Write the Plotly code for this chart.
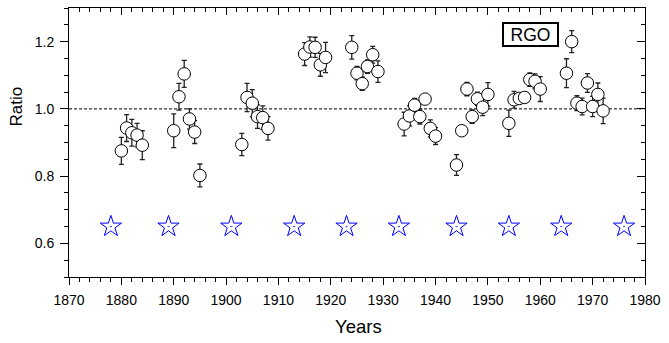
import plotly.graph_objects as go

# RGO ratio data
years = [1880, 1881, 1882, 1883, 1884, 1890, 1891, 1892, 1893, 1894, 1895,
         1903, 1904, 1905, 1906, 1907, 1908,
         1915, 1916, 1917, 1918, 1919, 1924, 1925, 1926, 1927, 1928, 1929,
         1934, 1935, 1936, 1937, 1938, 1939, 1940,
         1944, 1945, 1946, 1947, 1948, 1949, 1950,
         1954, 1955, 1956, 1957, 1958, 1959, 1960,
         1965, 1966, 1967, 1968, 1969, 1970, 1971, 1972]
ratio = [0.875, 0.943, 0.929, 0.922, 0.892, 0.935, 1.036, 1.104, 0.970, 0.931, 0.802,
         0.894, 1.034, 1.017, 0.977, 0.974, 0.942,
         1.163, 1.184, 1.183, 1.131, 1.153, 1.183, 1.106, 1.075, 1.126, 1.161, 1.111,
         0.955, 0.979, 1.011, 0.977, 1.029, 0.942, 0.919,
         0.833, 0.935, 1.059, 0.977, 1.030, 1.005, 1.043,
         0.957, 1.027, 1.031, 1.034, 1.087, 1.082, 1.059,
         1.106, 1.200, 1.017, 1.007, 1.077, 1.007, 1.043, 0.994]
err = [0.040, 0.040, 0.040, 0.035, 0.043, 0.050, 0.040, 0.040, 0.030, 0.034, 0.034,
       0.033, 0.042, 0.040, 0.035, 0.035, 0.035,
       0.034, 0.030, 0.030, 0.034, 0.045, 0.035, 0.020, 0.020, 0.020, 0.025, 0.032,
       0.035, 0.030, 0.020, 0.022, 0.010, 0.025, 0.025,
       0.031, 0.010, 0.020, 0.020, 0.020, 0.025, 0.035,
       0.039, 0.025, 0.010, 0.010, 0.020, 0.022, 0.037,
       0.043, 0.033, 0.022, 0.025, 0.028, 0.030, 0.034, 0.038]

# Solar minima markers
minima_years = [1878, 1889, 1901, 1913, 1923, 1933, 1944, 1954, 1964, 1976]
minima_level = [0.65] * len(minima_years)

x_range = [1870, 1980]
y_range = [0.5, 1.3]
x_ticks = [1870, 1880, 1890, 1900, 1910, 1920, 1930, 1940, 1950, 1960, 1970, 1980]
y_ticks = [0.6, 0.8, 1.0, 1.2]
reference_level = 1.0

FONT = "Arial, Liberation Sans, sans-serif"

fig = go.Figure()

fig.add_trace(go.Scatter(
    x=years, y=ratio, mode="markers",
    marker=dict(symbol="circle", size=12.5, color="white",
                line=dict(color="black", width=1)),
    error_y=dict(type="data", array=err, visible=True, color="#222222",
                 thickness=1.3, width=2.5),
    showlegend=False, hoverinfo="x+y"))

fig.add_trace(go.Scatter(
    x=minima_years, y=minima_level, mode="markers",
    marker=dict(symbol="star-open-dot", size=16, color="#0000ff",
                line=dict(color="#0000ff", width=1)),
    showlegend=False))

# invisible trace for mirrored axes
fig.add_trace(go.Scatter(x=x_range, y=y_range, xaxis="x2", yaxis="y2",
                         mode="markers", marker=dict(opacity=0),
                         showlegend=False, hoverinfo="skip"))

fig.add_shape(type="line", xref="paper", x0=0, x1=1, yref="y",
              y0=reference_level, y1=reference_level,
              line=dict(color="black", width=1, dash="3px,2px"), layer="below")

fig.add_annotation(x=0.801, y=0.902, xref="paper", yref="paper",
                   text="RGO", showarrow=False,
                   xanchor="center", yanchor="middle",
                   width=50, height=18,
                   font=dict(family=FONT, size=17.5, color="black"),
                   bordercolor="black", borderwidth=2, borderpad=1.5,
                   bgcolor="white")

# axis titles
fig.add_annotation(x=-0.091, y=0.632, xref="paper", yref="paper",
                   text="Ratio", textangle=-90, showarrow=False,
                   xanchor="center", yanchor="middle",
                   font=dict(family=FONT, size=17, color="black"))
fig.add_annotation(x=0.503, y=-0.184, xref="paper", yref="paper",
                   text="Years", showarrow=False,
                   xanchor="center", yanchor="middle",
                   font=dict(family=FONT, size=18.5, color="black"))

axis_common = dict(showgrid=False, zeroline=False, showline=True,
                   linecolor="black", linewidth=1)

fig.update_layout(
    width=669, height=343,
    margin=dict(l=68.5, r=18.3, t=8.3, b=66.3),
    paper_bgcolor="white", plot_bgcolor="white",
    font=dict(family=FONT, size=14, color="black"),
    xaxis=dict(range=x_range, tickvals=x_ticks, ticks="outside", ticklen=7,
               tickcolor="black", tickfont=dict(size=14), ticklabelstandoff=3,
               minor=dict(dtick=2, ticks="outside", ticklen=4, tickcolor="black"),
               **axis_common),
    yaxis=dict(range=y_range, tickvals=y_ticks, tickformat=".1f",
               ticks="outside", ticklen=8, tickcolor="black",
               tickfont=dict(size=14), ticklabelstandoff=3,
               minor=dict(dtick=0.05, tick0=0.5, ticks="outside", ticklen=4,
                          tickcolor="black"),
               **axis_common),
    xaxis2=dict(range=x_range, overlaying="x", side="top", tickvals=x_ticks,
                ticks="inside", ticklen=7, tickcolor="black",
                showticklabels=False,
                minor=dict(dtick=2, ticks="inside", ticklen=4, tickcolor="black"),
                **axis_common),
    yaxis2=dict(range=y_range, overlaying="y", side="right", tickvals=y_ticks,
                ticks="inside", ticklen=8, tickcolor="black",
                showticklabels=False,
                minor=dict(dtick=0.05, tick0=0.5, ticks="inside", ticklen=4,
                           tickcolor="black"),
                **axis_common),
)

fig.write_html("out.html", config={"displayModeBar": False},
               post_script="document.body.style.margin='0';")
